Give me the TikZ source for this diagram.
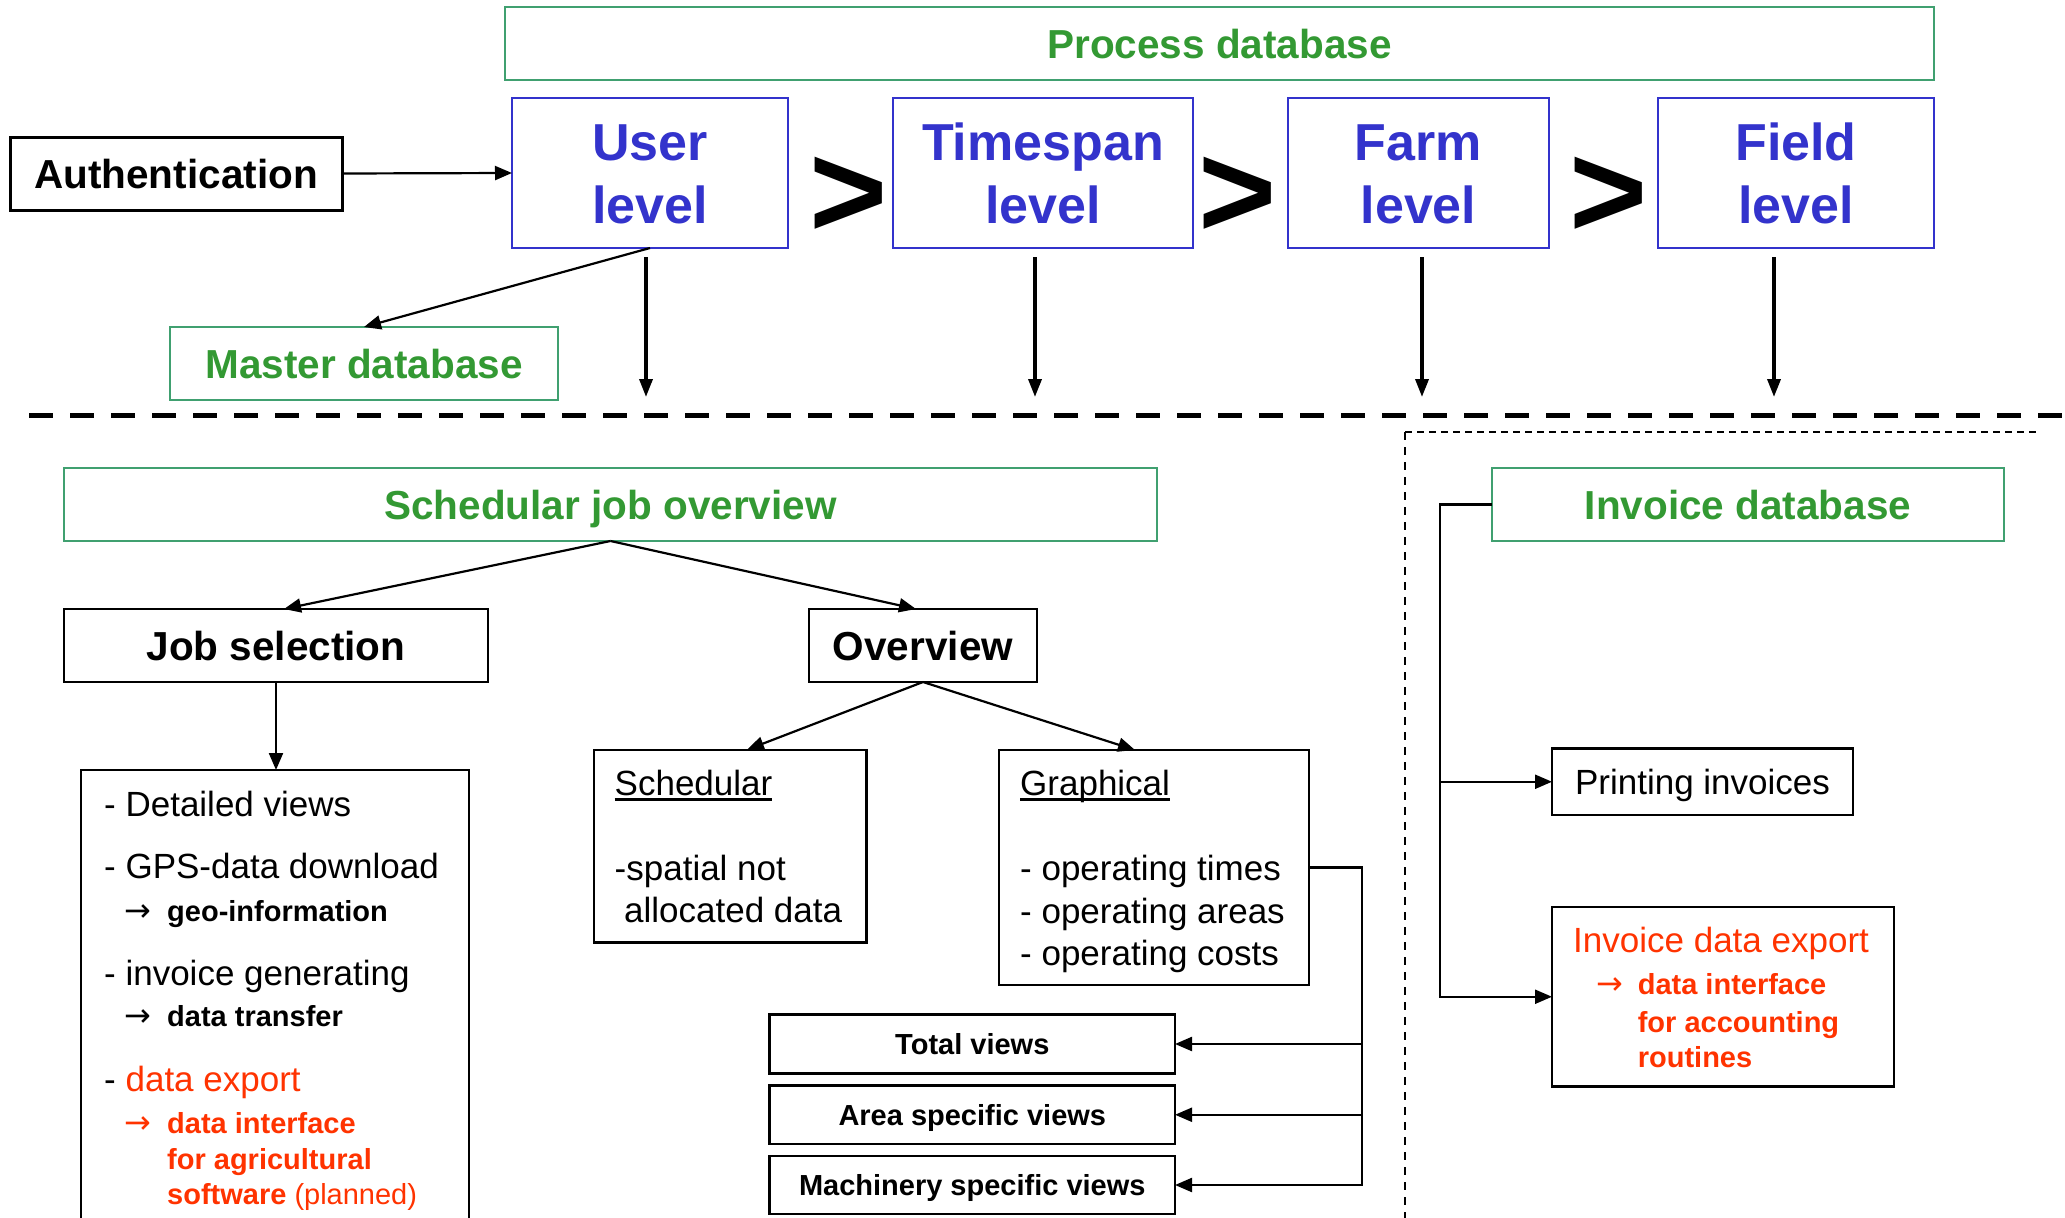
\documentclass[tikz,border=0pt]{standalone}
\usepackage{fontspec}
\setmainfont{Liberation Sans}
\newfontfamily\arrowfont{DejaVu Sans}
\usetikzlibrary{arrows.meta}
\definecolor{gtext}{RGB}{51,153,51}
\definecolor{gline}{RGB}{64,160,112}
\definecolor{lvblue}{RGB}{51,51,204}
\definecolor{rtext}{RGB}{255,51,0}
\newcommand\fsz[2]{\fontsize{#1}{#2}\selectfont}
% heading underline with a firm rule
\newcommand\uln[1]{\setbox0\hbox{#1}\rlap{\rule[-5pt]{\wd0}{2.4pt}}\box0}

\begin{document}
\begin{tikzpicture}[x=1pt,y=-1pt,
  box/.style={draw, rectangle, inner sep=0pt, outer sep=0pt, line width=2.5pt},
  gbox/.style={box, draw=gline, text=gtext, font=\bfseries\fsz{40.5}{48}, text height=29pt, text depth=0pt},
  lvbox/.style={box, draw=lvblue, text=lvblue, font=\bfseries\fsz{52}{63}, align=center, text height=100.2pt, text depth=0pt},
  kbox/.style={box, font=\bfseries\fsz{40.5}{48}, text height=29pt, text depth=0pt},
  vbox/.style={box, font=\bfseries\fsz{29}{35}, text height=20.8pt, text depth=0pt},
  plain/.style={box},
  txt/.style={inner sep=0pt, anchor=base west, font=\fsz{35}{42}},
  btxt/.style={inner sep=0pt, anchor=base west, font=\bfseries\fsz{29}{35}},
  arr/.style={inner sep=0pt, anchor=base west, font=\arrowfont\fsz{32}{38}},
  conn/.style={line width=2.2pt, -{Triangle[length=17pt,width=14pt]}},
  bigconn/.style={line width=3.5pt, -{Triangle[length=18pt,width=13pt]}},
  chev/.style={font=\bfseries\fsz{134}{134}, inner sep=0pt, anchor=base},
]
\fill[white] (0,0) rectangle (2065,1218);
\clip (0,0) rectangle (2065,1218);

% upper part: databases and levels
\node[gbox, minimum width=1429pt, minimum height=73pt] (procdb) at (1219.5,43.5) {Process database};
\node[kbox, line width=3pt, minimum width=332pt, minimum height=73pt] (auth) at (176,173.5) {Authentication};
\node[lvbox, minimum width=276pt, minimum height=150pt] (user) at (650,173) {User\\level};
\node[lvbox, minimum width=300pt, minimum height=150pt] (timespan) at (1043,173) {Timespan\\level};
\node[lvbox, minimum width=261pt, minimum height=150pt] (farm) at (1418.5,173) {Farm\\level};
\node[lvbox, minimum width=276pt, minimum height=150pt] (field) at (1796,173) {Field\\level};
\node[chev] (gt1) at (849,237) {>};
\node[chev] (gt2) at (1238,237) {>};
\node[chev] (gt3) at (1608.5,237) {>};
\node[gbox, minimum width=388pt, minimum height=73pt] (master) at (364,363.5) {Master database};

\draw[conn] (auth.east) -- (user.west);
\draw[conn] (user.south) -- (master.north);
\draw[bigconn] ([shift={(-4,9)}]user.south) -- ++(0,140);
\draw[bigconn] ([shift={(-8,9)}]timespan.south) -- ++(0,140);
\draw[bigconn] ([shift={(3.5,9)}]farm.south) -- ++(0,140);
\draw[bigconn] ([shift={(-22,9)}]field.south) -- ++(0,140);

% separators
\draw[line width=5pt, dash pattern=on 24pt off 17pt] (29,415) -- (2065,415);
\draw[line width=2pt, dash pattern=on 7pt off 5pt] (1405,432) -- (2039,432);
\draw[line width=2pt, dash pattern=on 8pt off 7pt] (1405,432) -- (1405,1218);

% job overview
\node[gbox, minimum width=1093pt, minimum height=73pt] (sjo) at (610.5,504.5) {Schedular job overview};
\node[kbox, minimum width=424pt, minimum height=73pt] (jobsel) at (276,645.5) {Job selection};
\node[kbox, minimum width=228pt, minimum height=73pt] (overview) at (923,645.5) {Overview};
\draw[conn] (sjo.south) -- ([xshift=8pt]jobsel.north);
\draw[conn] (sjo.south) -- ([xshift=-7pt]overview.north);

\node[plain, minimum width=388pt, minimum height=470pt] (detail) at (275,1005) {};
\draw[conn] (jobsel.south) -- (jobsel.south |- detail.north);
\node[txt] (d1) at (104,816.5) {- Detailed views};
\node[txt] (d2) at (104,878.5) {- GPS-data download};
\node[arr] (d3a) at (124,921.4) {→};
\node[btxt] (d3) at (167,921.4) {geo-information};
\node[txt] (d4) at (104,985.5) {- invoice generating};
\node[arr] (d5a) at (124,1026) {→};
\node[btxt] (d5) at (167,1026) {data transfer};
\node[txt] (d6) at (104,1091.5) {- \textcolor{rtext}{data export}};
\node[arr, text=rtext] (d7a) at (124,1133) {→};
\node[btxt, text=rtext] (d7) at (167,1133) {data interface};
\node[btxt, text=rtext] (d8) at (167,1169.5) {for agricultural};
\node[btxt, text=rtext] (d9) at (167,1204.5) {software \mdseries(planned)};

\node[plain, minimum width=272.5pt, minimum height=192.5pt] (schedular) at (730,846) {};
\draw[conn] (overview.south) -- ([xshift=17pt]schedular.north);
\node[txt] (s1) at (614.5,795.5) {\uln{Schedular}};
\node[txt] (s2) at (614.5,880.5) {-spatial not};
\node[txt] (s3) at (624,922.5) {allocated data};

\node[plain, minimum width=310.4pt, minimum height=235pt] (graphical) at (1154,867.5) {};
\draw[conn] (overview.south) -- ([xshift=-19pt]graphical.north);
\node[txt] (g1) at (1020,795.5) {\uln{Graphical}};
\node[txt] (g2) at (1020,880.5) {- operating times};
\node[txt] (g3) at (1020,923) {- operating areas};
\node[txt] (g4) at (1020,965.5) {- operating costs};

\node[vbox, minimum width=405.4pt, minimum height=59pt] (total) at (972.3,1044) {Total views};
\node[vbox, minimum width=405.4pt, minimum height=58.5pt] (area) at (972.3,1114.75) {Area specific views};
\node[vbox, minimum width=405.4pt, minimum height=58pt] (mach) at (972.3,1185) {Machinery specific views};
\coordinate (gbus) at (1362,867.5);
\draw[conn] (graphical.east) -- (gbus) |- (mach.east);
\draw[conn] (gbus |- total.east) -- (total.east);
\draw[conn] (gbus |- area.east) -- (area.east);

% invoices
\node[gbox, minimum width=512pt, minimum height=73pt] (invdb) at (1748,504.5) {Invoice database};
\node[box, font=\fsz{35}{42}, text height=25pt, text depth=0pt, minimum width=301pt, minimum height=66.5pt] (print) at (1702.5,781.75) {Printing invoices};
\node[plain, minimum width=342pt, minimum height=179.5pt] (export) at (1723,996.75) {};
\node[txt, text=rtext] (e1) at (1573,952.5) {Invoice data export};
\node[arr, text=rtext] (e2a) at (1596,994.5) {→};
\node[btxt, text=rtext] (e2) at (1637.6,994.5) {data interface};
\node[btxt, text=rtext] (e3) at (1637.6,1032.5) {for accounting};
\node[btxt, text=rtext] (e4) at (1637.6,1067.5) {routines};
\coordinate (ibus) at (1440,504.5);
\draw[conn] (invdb.west) -- (ibus) |- (export.west);
\draw[conn] (ibus |- print.west) -- (print.west);
\end{tikzpicture}
\end{document}
